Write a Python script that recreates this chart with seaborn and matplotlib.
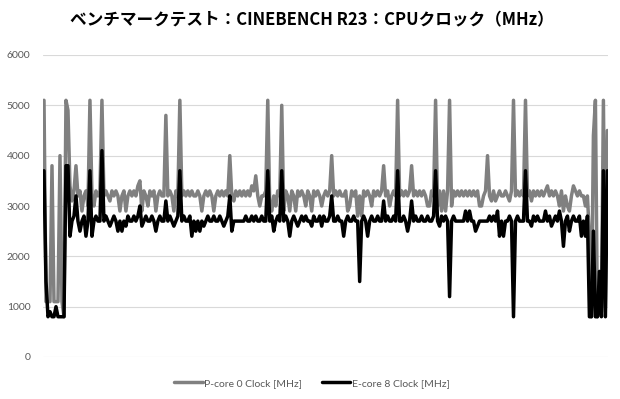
import numpy as np
import pandas as pd
import seaborn as sns
import matplotlib.pyplot as plt

title_text = "ベンチマークテスト：CINEBENCH R23：CPUクロック（MHz）"
series_names = ["P-core 0 Clock [MHz]", "E-core 8 Clock [MHz]"]
y_ticks = [0, 1000, 2000, 3000, 4000, 5000, 6000]

p_core0 = [
    5100, 1100, 1100, 1100, 3800, 1100, 1100, 1100, 4000, 1100,
    800, 5100, 4900, 3400, 3100, 3300, 3800, 3200, 3300, 2900,
    3200, 3300, 3000, 5100, 3200, 3000, 3300, 3200, 3300, 5100,
    3200, 3300, 3200, 3100, 3300, 3200, 3300, 3200, 2900, 3200,
    3300, 2900, 3200, 3300, 3200, 3300, 3200, 3400, 3500, 2900,
    3300, 3200, 3000, 3300, 3200, 3300, 2900, 3200, 3300, 3200,
    3200, 4800, 3200, 3300, 3200, 2900, 3300, 3200, 5100, 3200,
    3300, 3200, 3300, 3200, 3300, 3200, 3200, 3300, 3200, 2900,
    3200, 3300, 3200, 3300, 3200, 2900, 3200, 3300, 3200, 3300,
    3200, 3300, 3200, 4000, 3200, 3100, 3300, 3200, 3300, 3200,
    3300, 3200, 3300, 3200, 3400, 3300, 3600, 3200, 3000, 3200,
    3200, 3300, 5100, 3000, 2900, 3200, 3000, 3300, 3200, 5000,
    2900, 3300, 3200, 2900, 3300, 3200, 2900, 3300, 3200, 3300,
    3200, 3000, 3300, 3200, 2900, 3300, 3200, 3300, 3200, 3000,
    3200, 3300, 3200, 3300, 4000, 3200, 3300, 3200, 3300, 3200,
    3200, 3300, 2900, 3000, 3300, 3200, 3300, 2800, 3200, 2800,
    3300, 3200, 3300, 3200, 3000, 3300, 3200, 3300, 3200, 3300,
    3800, 3200, 3300, 3000, 3200, 3300, 3200, 5100, 3200, 3300,
    3200, 3300, 3200, 3300, 3800, 3200, 3300, 3200, 3300, 3200,
    3300, 3200, 3000, 3000, 3300, 3200, 5100, 3000, 3300, 2900,
    3300, 2900, 3300, 5100, 3000, 3300, 3200, 3300, 3200, 3300,
    3200, 3300, 3200, 3300, 3200, 3300, 3200, 3300, 3000, 3000,
    3200, 3300, 4000, 3200, 3100, 3300, 3100, 3200, 3300, 3200,
    3200, 3300, 3200, 3100, 3300, 5100, 3200, 3300, 3200, 3300,
    3200, 5100, 3200, 3300, 3100, 3300, 3200, 3300, 3200, 3300,
    3200, 3300, 3400, 3200, 3300, 3200, 3300, 3200, 3000, 3300,
    2900, 3200, 3000, 2900, 3200, 3400, 3300, 3200, 3300, 3200,
    3200, 3000, 3200, 2400, 800, 4400, 5100, 800, 1000, 900,
    5100, 1000, 4500,
]

e_core8 = [
    3700, 1500, 800, 900, 800, 800, 1000, 800, 800, 800,
    800, 3800, 3800, 2400, 2700, 2800, 3200, 2700, 2500, 2700,
    2800, 2400, 2700, 3700, 2400, 2700, 2800, 2700, 2700, 4100,
    2700, 2800, 2700, 2600, 2700, 2800, 2700, 2500, 2700, 2500,
    2700, 2600, 2800, 2700, 2700, 2800, 2700, 2800, 3000, 2600,
    2700, 2800, 2700, 2700, 2800, 2700, 2500, 2700, 2800, 2700,
    2700, 3100, 2700, 2800, 2700, 2600, 2700, 2800, 3700, 2700,
    2800, 2700, 2700, 2800, 2400, 2700, 2500, 2700, 2500, 2700,
    2600, 2700, 2800, 2700, 2700, 2800, 2700, 2700, 2800, 2700,
    2600, 2700, 2800, 3200, 2500, 2700, 2700, 2700, 2700, 2700,
    2700, 2800, 2700, 2700, 2800, 2700, 2800, 2700, 2700, 2800,
    2700, 2700, 3700, 2700, 2800, 2500, 2700, 2800, 2700, 3700,
    2700, 2800, 2700, 2400, 2700, 2800, 2700, 2600, 2700, 2800,
    2700, 2800, 2700, 2700, 2600, 2800, 2700, 2700, 2800, 2600,
    2800, 2700, 2700, 2800, 3200, 2700, 2700, 2800, 2700, 2700,
    2400, 2700, 2800, 2700, 2700, 2800, 2700, 2700, 1500, 2700,
    2800, 2700, 2400, 2700, 2800, 2700, 2700, 2800, 2700, 2700,
    3100, 2700, 2800, 2700, 2700, 2800, 2700, 3700, 2700, 2700,
    2800, 2700, 2500, 2700, 3100, 2700, 2800, 2700, 2700, 2800,
    2700, 2700, 2800, 2700, 2700, 2800, 3700, 2700, 2600, 2800,
    2700, 2800, 2700, 1200, 2700, 2800, 2700, 2700, 2700, 2700,
    2700, 2900, 2700, 2900, 2700, 2700, 2500, 2600, 2700, 2700,
    2700, 2700, 2700, 2800, 2700, 2800, 2700, 2900, 2400, 2700,
    2400, 2700, 2700, 2800, 2700, 800, 2700, 2800, 2700, 2700,
    2700, 3700, 2700, 2700, 2600, 2800, 2700, 2800, 2700, 2700,
    2700, 2900, 2700, 2800, 2600, 2700, 2800, 2700, 2900, 2700,
    2200, 2700, 2800, 2500, 2700, 2800, 2700, 2700, 2800, 2400,
    2700, 2400, 2800, 800, 800, 2500, 800, 800, 1700, 800,
    3700, 800, 3700,
]

n = len(p_core0)
assert n == len(e_core8)

df = pd.DataFrame({
    "sample": list(range(n)) * 2,
    "MHz": p_core0 + e_core8,
    "series": [series_names[0]] * n + [series_names[1]] * n,
})

sns.set_theme(style="white")
plt.rcParams["font.family"] = ["Lato", "Noto Sans CJK JP", "DejaVu Sans"]

W, H = 620, 399
fig = plt.figure(figsize=(W / 100, H / 100), dpi=100)
ax = fig.add_axes([43 / W, 1 - 357 / H, (608 - 43) / W, (357 - 55) / H])

sns.lineplot(data=df, x="sample", y="MHz", hue="series", hue_order=series_names,
             palette=["#808080", "#000000"], linewidth=2.5, ax=ax,
             estimator=None, sort=False)

ax.set_ylim(0, 6000)
ax.set_xlim(-0.5, n - 0.7)
ax.set_yticks(y_ticks)
ax.set_yticklabels([str(v) for v in y_ticks])
ax.set_xticks([])
ax.set_xlabel("")
ax.set_ylabel("")
for s in ax.spines.values():
    s.set_visible(False)
ax.yaxis.grid(True, color="#d9d9d9", linewidth=0.8)
ax.set_axisbelow(True)
ax.tick_params(axis="y", length=0, pad=9, labelsize=7.5, labelcolor="#595959")

handles, labels = ax.get_legend_handles_labels()
ax.get_legend().remove()
fig.legend(handles, labels, loc="center", bbox_to_anchor=(312 / W, 1 - 383 / H),
           ncol=2, frameon=False, fontsize=7.5, handlelength=2.7,
           handletextpad=0.15, columnspacing=1.9, labelcolor="#595959")

fig.text(312 / W, 1 - 20 / H, title_text, ha="center", va="center",
         fontsize=12, fontweight="bold", color="#000000",
         family=["Noto Sans CJK JP", "DejaVu Sans"])

fig.savefig("out.png", dpi=100)
